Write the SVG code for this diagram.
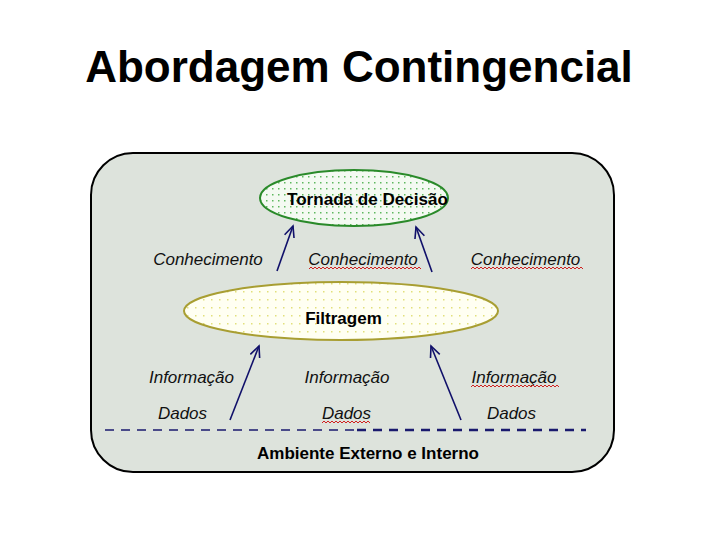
<svg xmlns="http://www.w3.org/2000/svg" width="720" height="540" viewBox="0 0 720 540">
<style>
.title{font-family:"Liberation Sans",Arial,sans-serif;font-weight:bold;font-size:44px;fill:#000}
.bold{font-family:"Liberation Sans",Arial,sans-serif;font-weight:bold;font-size:17px;fill:#000}
.lbl{font-family:"Liberation Sans",Arial,sans-serif;font-style:italic;font-size:17px;fill:#111}
.arrow{stroke:#10106a;stroke-width:1.6;fill:none;marker-end:url(#ah)}
.dash{stroke:#1a1a6e;fill:none;stroke-dasharray:9 7}
.wavy{stroke:#d02020;stroke-width:1;fill:none}
</style>
<defs>
<pattern id="gdots" width="6" height="6" patternUnits="userSpaceOnUse">
<rect width="6" height="6" fill="#f4faf2"/>
<rect x="2" y="2" width="1.5" height="1.5" fill="#5fb85f"/>
</pattern>
<pattern id="ydots" width="8" height="8" patternUnits="userSpaceOnUse">
<rect width="8" height="8" fill="#fffff2"/>
<rect x="3" y="3" width="1.5" height="1.5" fill="#e2e07a"/>
</pattern>
<marker id="ah" markerWidth="14" markerHeight="14" refX="12" refY="6" orient="auto" markerUnits="userSpaceOnUse">
<path d="M1,1 L12,6 L1,11" fill="none" stroke="#10106a" stroke-width="1.6"/>
</marker>
</defs>
<rect width="720" height="540" fill="#fff"/>
<text class="title" x="359" y="82" text-anchor="middle">Abordagem Contingencial</text>
<g id="frame">
<rect x="91" y="153" width="523" height="319" rx="42" ry="42" fill="#dde3dc" stroke="#000" stroke-width="2"/>
</g>
<g id="decisao">
<ellipse cx="354" cy="198" rx="94" ry="28" fill="url(#gdots)" stroke="#2a8a2a" stroke-width="2"/>
<text class="bold" x="287" y="205" textLength="161" lengthAdjust="spacingAndGlyphs">Tornada de Decisão</text>
</g>
<g id="filtragem">
<ellipse cx="341" cy="311" rx="157" ry="29" fill="url(#ydots)" stroke="#a89e32" stroke-width="2"/>
<text class="bold" x="343.5" y="324" text-anchor="middle">Filtragem</text>
</g>
<g id="connectors">
<line class="arrow" x1="277" y1="271" x2="293" y2="226"/>
<line class="arrow" x1="432" y1="272" x2="416" y2="227"/>
<line class="arrow" x1="230" y1="420" x2="259" y2="346"/>
<line class="arrow" x1="461" y1="420" x2="431" y2="346"/>
</g>
<g id="labels">
<text class="lbl" x="208" y="265" text-anchor="middle">Conhecimento</text>
<text class="lbl" x="363" y="265" text-anchor="middle">Conhecimento</text>
<text class="lbl" x="525.5" y="265" text-anchor="middle">Conhecimento</text>
<text class="lbl" x="191.5" y="383" text-anchor="middle">Informação</text>
<text class="lbl" x="347" y="383" text-anchor="middle">Informação</text>
<text class="lbl" x="514" y="383" text-anchor="middle">Informação</text>
<text class="lbl" x="182.5" y="419" text-anchor="middle">Dados</text>
<text class="lbl" x="346.5" y="419" text-anchor="middle">Dados</text>
<text class="lbl" x="511.5" y="419" text-anchor="middle">Dados</text>
</g>
<g id="spellmarks">
<path class="wavy" d="M309,269 l2,-2 l2,2 l2,-2 l2,2 l2,-2 l2,2 l2,-2 l2,2 l2,-2 l2,2 l2,-2 l2,2 l2,-2 l2,2 l2,-2 l2,2 l2,-2 l2,2 l2,-2 l2,2 l2,-2 l2,2 l2,-2 l2,2 l2,-2 l2,2 l2,-2 l2,2 l2,-2 l2,2 l2,-2 l2,2 l2,-2 l2,2 l2,-2 l2,2 l2,-2 l2,2 l2,-2 l2,2 l2,-2 l2,2 l2,-2 l2,2 l2,-2 l2,2 l2,-2 l2,2 l2,-2 l2,2 l2,-2 l2,2 l2,-2 l2,2 l2,-2 l2,2"/>
<path class="wavy" d="M471,269 l2,-2 l2,2 l2,-2 l2,2 l2,-2 l2,2 l2,-2 l2,2 l2,-2 l2,2 l2,-2 l2,2 l2,-2 l2,2 l2,-2 l2,2 l2,-2 l2,2 l2,-2 l2,2 l2,-2 l2,2 l2,-2 l2,2 l2,-2 l2,2 l2,-2 l2,2 l2,-2 l2,2 l2,-2 l2,2 l2,-2 l2,2 l2,-2 l2,2 l2,-2 l2,2 l2,-2 l2,2 l2,-2 l2,2 l2,-2 l2,2 l2,-2 l2,2 l2,-2 l2,2 l2,-2 l2,2 l2,-2 l2,2 l2,-2 l2,2 l2,-2 l2,2"/>
<path class="wavy" d="M471,387 l2,-2 l2,2 l2,-2 l2,2 l2,-2 l2,2 l2,-2 l2,2 l2,-2 l2,2 l2,-2 l2,2 l2,-2 l2,2 l2,-2 l2,2 l2,-2 l2,2 l2,-2 l2,2 l2,-2 l2,2 l2,-2 l2,2 l2,-2 l2,2 l2,-2 l2,2 l2,-2 l2,2 l2,-2 l2,2 l2,-2 l2,2 l2,-2 l2,2 l2,-2 l2,2 l2,-2 l2,2 l2,-2 l2,2 l2,-2 l2,2"/>
<path class="wavy" d="M322,423 l2,-2 l2,2 l2,-2 l2,2 l2,-2 l2,2 l2,-2 l2,2 l2,-2 l2,2 l2,-2 l2,2 l2,-2 l2,2 l2,-2 l2,2 l2,-2 l2,2 l2,-2 l2,2 l2,-2 l2,2 l2,-2 l2,2"/>
</g>
<g id="ambiente">
<line class="dash" x1="105" y1="430" x2="355" y2="430" stroke-width="1.5"/>
<line class="dash" x1="357" y1="430" x2="586" y2="430" stroke-width="2.5"/>
<text class="bold" x="368" y="459" text-anchor="middle">Ambiente Externo e Interno</text>
</g>
</svg>
